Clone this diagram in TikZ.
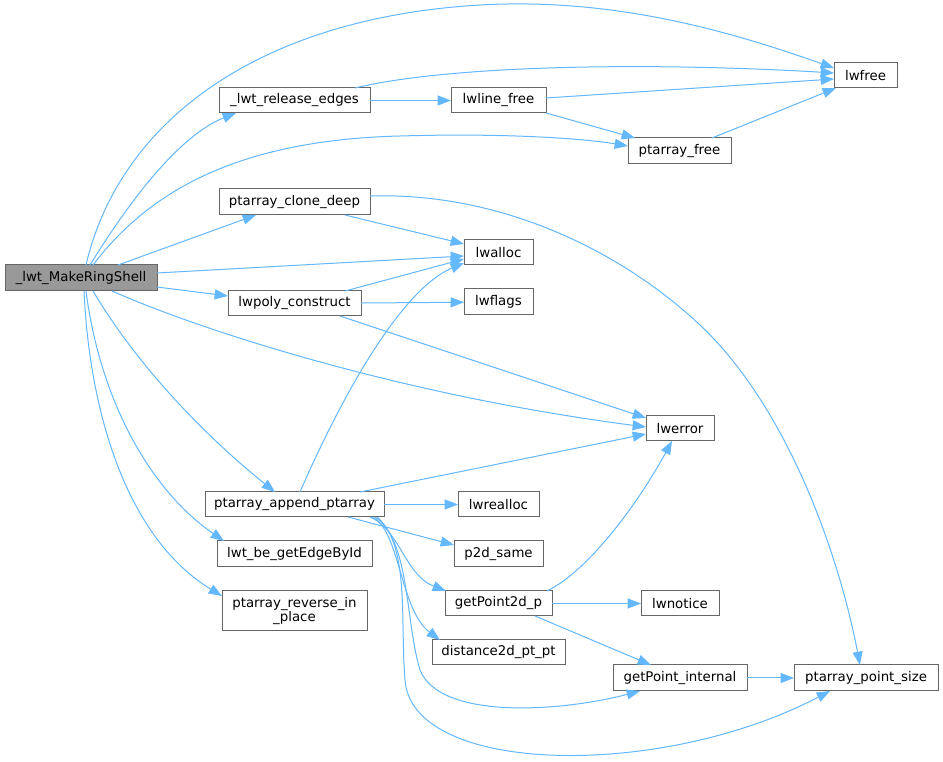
\documentclass[tikz,border=0pt]{standalone}
\usepackage{fontspec}
\setmainfont{DejaVu Sans}
\usetikzlibrary{arrows.meta,calc}
\definecolor{edgeblue}{HTML}{63B8FF}
\definecolor{boxgray}{HTML}{666666}
\definecolor{rootgray}{HTML}{999999}
\newcommand\mkbox[7][]{\node[nbox,#1,minimum width={(#5-#4)*0.75pt},minimum height={(#7-#6)*0.75pt}] (#2) at ({(#4+#5)/2},{(#6+#7)/2}) {#3};}
\begin{document}
\begin{tikzpicture}[x=0.75pt,y=-0.75pt,
  nbox/.style={draw=boxgray,fill=white,line width=0.75pt,inner sep=0pt,outer sep=0pt,align=center,text=black,font=\fontsize{10}{11}\selectfont},
  edge/.style={draw=edgeblue,line width=0.75pt,-{Triangle[length=10pt,width=7.5pt]}}]
\useasboundingbox[fill=white] (0,0) rectangle (943,762);
% nodes
\mkbox[fill=rootgray]{M}{\_lwt\_MakeRingShell}{5}{157}{265}{291}
\mkbox{RE}{\_lwt\_release\_edges}{219}{370}{88}{113}
\mkbox{LF}{lwline\_free}{451}{546}{88}{113}
\mkbox{LWF}{lwfree}{834}{897}{63}{88}
\mkbox{PF}{ptarray\_free}{628}{731}{138}{164}
\mkbox{CD}{ptarray\_clone\_deep}{219}{370}{189}{215}
\mkbox{LA}{lwalloc}{464}{533}{240}{265}
\mkbox{PC}{lwpoly\_construct}{228}{361}{291}{316}
\mkbox{FL}{lwflags}{464}{533}{289}{315}
\mkbox{ER}{lwerror}{646}{714}{416}{441}
\mkbox{AP}{ptarray\_append\_ptarray}{205}{384}{492}{517}
\mkbox{RA}{lwrealloc}{458}{539}{492}{517}
\mkbox{EB}{lwt\_be\_getEdgeById}{217}{372}{541}{567}
\mkbox{PS}{p2d\_same}{454}{543}{541}{567}
\mkbox{RV}{ptarray\_reverse\_in\\\_place}{222}{367}{591}{631}
\mkbox{GP}{getPoint2d\_p}{445}{552}{591}{616}
\mkbox{NO}{lwnotice}{641}{719}{591}{616}
\mkbox{DI}{distance2d\_pt\_pt}{432}{565}{640}{665}
\mkbox{GI}{getPoint\_internal}{613}{747}{665}{691}
\mkbox{PSZ}{ptarray\_point\_size}{794}{938}{665}{691}
% edges from _lwt_MakeRingShell
\draw[edge] ($(M.north west)+(81,0)$) .. controls (120,120) and (260,18) .. (480,5)
  .. controls (620,-3) and (740,35) .. ($(LWF.north west)+(0,5)$);
\draw[edge] ($(M.north west)+(85,0)$) .. controls (130,200) and (180,135) .. ($(RE.south west)+(17,0)$);
\draw[edge] ($(M.north west)+(88,0)$) .. controls (150,190) and (240,140) .. (400,136)
  .. controls (500,133) and (580,138) .. ($(PF.north west)+(0,8)$);
\draw[edge] ($(M.north west)+(113,0)$) -- ($(CD.south west)+(37,0)$);
\draw[edge] ($(M.north east)+(0,8)$) -- ($(LA.north west)+(0,16)$);
\draw[edge] ($(M.south east)+(0,-4)$) -- ($(PC.north west)+(0,5)$);
\draw[edge] ($(M.south west)+(107,0)$) .. controls (200,330) and (400,395) .. ($(ER.north west)+(0,11)$);
\draw[edge] ($(M.south west)+(88,0)$) .. controls (140,370) and (210,440) .. ($(AP.north west)+(70,0)$);
\draw[edge] ($(M.south west)+(81,0)$) .. controls (100,400) and (150,490) .. ($(EB.north west)+(7,0)$);
\draw[edge] ($(M.south west)+(79,0)$) .. controls (90,420) and (130,540) .. ($(RV.north west)+(0,5)$);
% _lwt_release_edges
\draw[edge] ($(RE.north west)+(136,0)$) .. controls (450,65) and (650,62) .. ($(LWF.north west)+(0,10)$);
\draw[edge] (RE) -- (LF);
% lwline_free
\draw[edge] ($(LF.north east)+(0,10)$) -- ($(LWF.north west)+(0,16)$);
\draw[edge] (LF.south east) -- ($(PF.north west)+(7,0)$);
% ptarray_free
\draw[edge] ($(PF.north west)+(84,0)$) -- ($(LWF.south west)+(2,0)$);
% ptarray_clone_deep
\draw[edge] ($(CD.south west)+(126,0)$) -- ($(LA.north west)+(0,4)$);
\draw[edge] ($(CD.north east)+(0,7)$) .. controls (500,192) and (620,250) .. (700,325)
  .. controls (790,410) and (840,560) .. ($(PSZ.north west)+(66,0)$);
% lwpoly_construct
\draw[edge] ($(PC.north west)+(117,0)$) -- ($(LA.north west)+(0,19)$);
\draw[edge] (PC) -- (FL);
\draw[edge] ($(PC.south west)+(112,0)$) -- ($(ER.north west)+(0,2)$);
% ptarray_append_ptarray
\draw[edge] ($(AP.north west)+(95,0)$) .. controls (340,400) and (400,290) .. ($(LA.south west)+(0,-2)$);
\draw[edge] ($(AP.north west)+(155,0)$) -- ($(ER.north west)+(0,18)$);
\draw[edge] (AP) -- (RA);
\draw[edge] ($(AP.south west)+(143,0)$) -- ($(PS.north west)+(0,4)$);
\draw[edge] ($(AP.south west)+(165,0)$) .. controls (400,530) and (405,575) .. ($(GP.north west)+(1,0)$);
\draw[edge] ($(AP.south west)+(167,0)$) .. controls (400,530) and (400,610) .. ($(DI.north west)+(8,0)$);
\draw[edge] ($(AP.south west)+(170,0)$) .. controls (410,540) and (405,620) .. (420,670)
  .. controls (440,720) and (560,712) .. ($(GI.south west)+(27,0)$);
\draw[edge] ($(AP.south west)+(172,0)$) .. controls (410,545) and (400,620) .. (405,680)
  .. controls (412,775) and (660,780) .. ($(PSZ.south west)+(36,0)$);
% getPoint2d_p
\draw[edge] ($(GP.north west)+(102,0)$) .. controls (590,570) and (640,500) .. ($(ER.south west)+(26,0)$);
\draw[edge] (GP) -- (NO);
\draw[edge] ($(GP.south west)+(90,0)$) -- ($(GI.north west)+(38,0)$);
% getPoint_internal
\draw[edge] (GI) -- (PSZ);
\end{tikzpicture}
\end{document}
